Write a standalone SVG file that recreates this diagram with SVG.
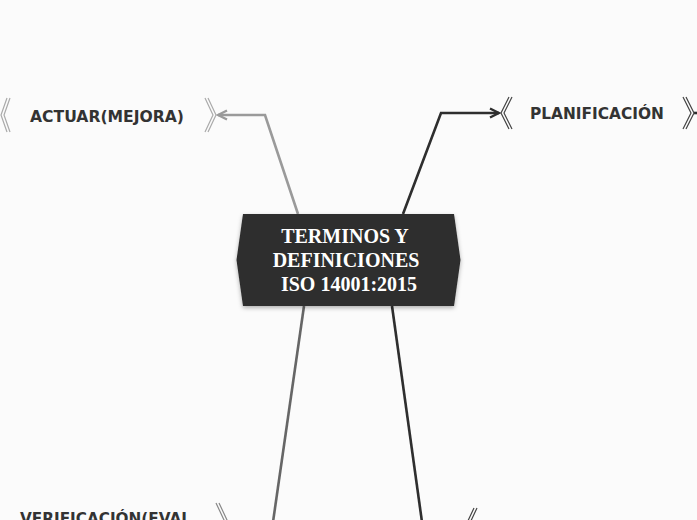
<svg xmlns="http://www.w3.org/2000/svg" width="697" height="520" viewBox="0 0 697 520">
<defs>
<style>
.lbl{font-family:"DejaVu Sans","Liberation Sans",sans-serif;font-weight:bold;font-size:15px;fill:#333;}
.ctr{font-family:"Liberation Serif","Times New Roman",serif;font-weight:bold;font-size:20px;fill:#fff;text-anchor:middle;}
.chev{fill:none;stroke-width:1.2;}
.conn{fill:none;stroke-width:2.6;stroke-linejoin:miter;}
</style>
<marker id="arrG" viewBox="0 0 12 12" refX="10" refY="6" markerWidth="12" markerHeight="12" markerUnits="userSpaceOnUse" orient="auto">
<path d="M1,1.5 L10,6 L1,10.5" fill="none" stroke="#9a9a9a" stroke-width="2.4"/>
</marker>
<marker id="arrD" viewBox="0 0 12 12" refX="10" refY="6" markerWidth="12" markerHeight="12" markerUnits="userSpaceOnUse" orient="auto">
<path d="M1,1.5 L10,6 L1,10.5" fill="none" stroke="#2e2e2e" stroke-width="2.4"/>
</marker>
<filter id="sh" x="-10%" y="-10%" width="120%" height="130%">
<feDropShadow dx="0" dy="2" stdDeviation="2" flood-color="#000" flood-opacity="0.3"/>
</filter>
</defs>
<rect width="697" height="520" fill="#fbfbfb"/>
<g id="connectors">
<polyline class="conn" stroke="#9a9a9a" points="298,214 265,115 218,115" marker-end="url(#arrG)"/>
<polyline class="conn" stroke="#2e2e2e" points="403,214 441,113 499,113" marker-end="url(#arrD)"/>
<polyline class="conn" stroke="#666" points="304,306 273,522"/>
<polyline class="conn" stroke="#2e2e2e" points="392,306 422,522"/>
<line x1="694" y1="113" x2="697" y2="113" stroke="#2e2e2e" stroke-width="2.6"/>
</g>
<g id="center">
<path d="M243,214 L454,214 L460.5,260 L454,306 L243,306 L236.5,260 Z" fill="#2d2d2d" filter="url(#sh)"/>
<text class="ctr" x="345" y="243">TERMINOS Y</text>
<text class="ctr" x="346" y="267">DEFINICIONES</text>
<text class="ctr" x="349" y="291">ISO 14001:2015</text>
</g>
<g id="actuar">
<path class="chev" stroke="#aaa" d="M7,98 L1,115 L7,132 M10,98 L4,115 L10,132"/>
<text class="lbl" x="30" y="121.5" textLength="154" lengthAdjust="spacingAndGlyphs">ACTUAR(MEJORA)</text>
<path class="chev" stroke="#aaa" d="M205,98 L213,115 L205,132 M208,98 L216,115 L208,132"/>
</g>
<g id="planificacion">
<path class="chev" stroke="#444" d="M509,97 L501,113 L509,129 M512,97 L504,113 L512,129"/>
<text class="lbl" x="530" y="119" textLength="134" lengthAdjust="spacingAndGlyphs">PLANIFICACIÓN</text>
<path class="chev" stroke="#444" d="M683,97 L691,113 L683,129 M686,97 L694,113 L686,129"/>
</g>
<g id="verificacion">
<text class="lbl" x="20" y="524" textLength="171" lengthAdjust="spacingAndGlyphs">VERIFICACIÓN(EVAL</text>
<path class="chev" stroke="#888" d="M216,503 L224,520 L216,537 M219,503 L227,520 L219,537"/>
</g>
<g id="hacer">
<path class="chev" stroke="#444" d="M474,508 L466,525 L474,542 M477,508 L469,525 L477,542"/>
</g>
</svg>
